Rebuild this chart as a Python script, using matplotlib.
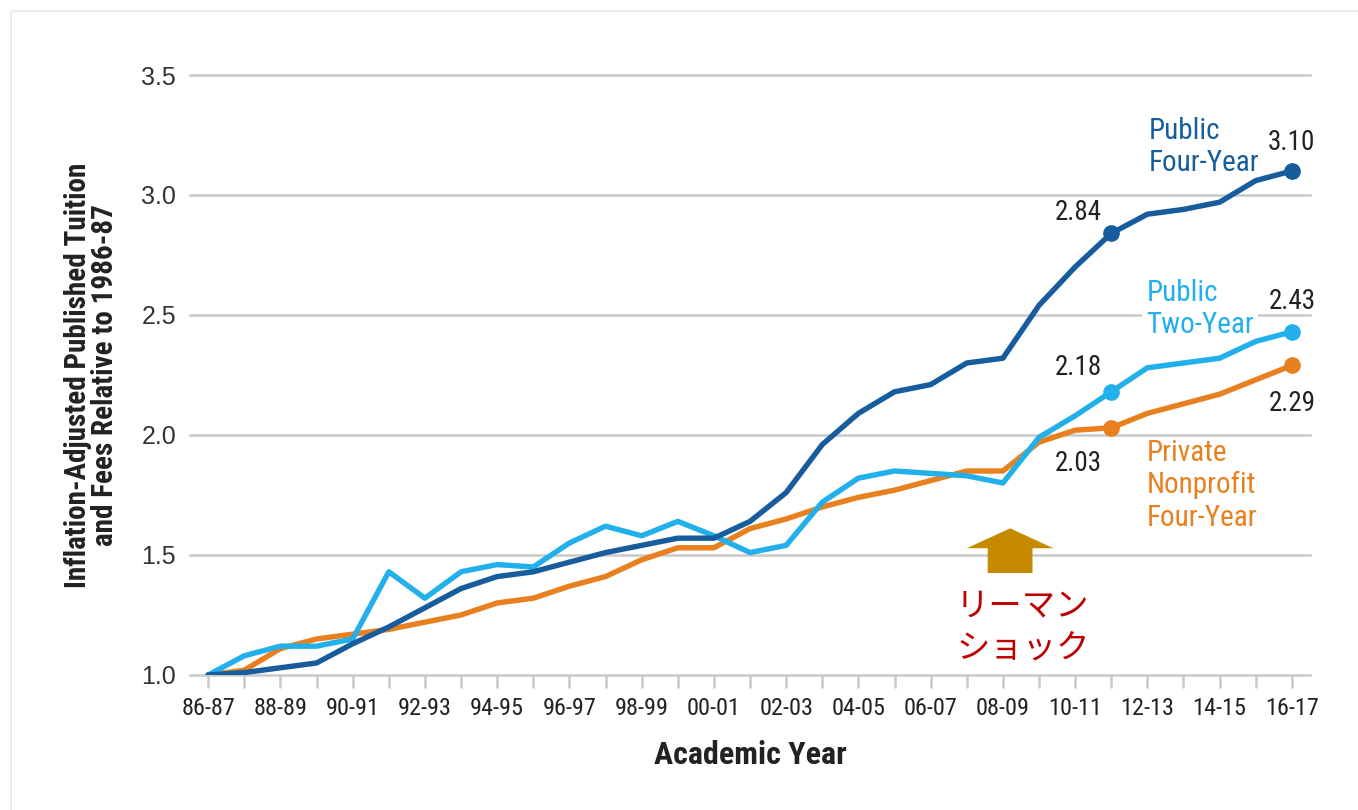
import matplotlib
matplotlib.use("Agg")
import matplotlib.pyplot as plt
from matplotlib.patches import Polygon
from matplotlib.lines import Line2D

years = [f"{y % 100:02d}-{(y + 1) % 100:02d}" for y in range(1986, 2017)]

public_four = [1.00, 1.01, 1.03, 1.05, 1.13, 1.20, 1.28, 1.36, 1.41, 1.43,
               1.47, 1.51, 1.54, 1.57, 1.57, 1.64, 1.76, 1.96, 2.09, 2.18,
               2.21, 2.30, 2.32, 2.54, 2.70, 2.84, 2.92, 2.94, 2.97, 3.06, 3.10]
public_two = [1.00, 1.08, 1.12, 1.12, 1.15, 1.43, 1.32, 1.43, 1.46, 1.45,
              1.55, 1.62, 1.58, 1.64, 1.58, 1.51, 1.54, 1.72, 1.82, 1.85,
              1.84, 1.83, 1.80, 1.99, 2.08, 2.18, 2.28, 2.30, 2.32, 2.39, 2.43]
private_np = [1.00, 1.02, 1.11, 1.15, 1.17, 1.19, 1.22, 1.25, 1.30, 1.32,
              1.37, 1.41, 1.48, 1.53, 1.53, 1.61, 1.65, 1.70, 1.74, 1.77,
              1.81, 1.85, 1.85, 1.97, 2.02, 2.03, 2.09, 2.13, 2.17, 2.23, 2.29]

DARK = "#175d9d"
LIGHT = "#22b0ea"
ORANGE = "#e8801f"
GRID = "#c9c9c9"
FONT = ["Roboto Condensed", "Liberation Sans", "DejaVu Sans"]
plt.rcParams["font.family"] = FONT

fig = plt.figure(figsize=(13.58, 8.10), dpi=100)
ax = fig.add_axes([0.14, 0.1667, 0.8246, 0.7407])

x = list(range(len(years)))
ax.set_xlim(-0.5, 30.5)
ax.set_ylim(1.0, 3.5)

for v in [1.5, 2.0, 2.5, 3.0, 3.5]:
    ax.axhline(v, color=GRID, lw=1.8, zorder=1, clip_on=False)

ax.plot(x, private_np, color=ORANGE, lw=3.9, zorder=3, solid_capstyle="round")
ax.plot(x, public_two, color=LIGHT, lw=3.9, zorder=4, solid_capstyle="round")
ax.plot(x, public_four, color=DARK, lw=3.9, zorder=5, solid_capstyle="round")

for series, col in [(public_four, DARK), (public_two, LIGHT), (private_np, ORANGE)]:
    ax.plot([25, 30], [series[25], series[30]], "o", color=col, ms=11, zorder=6,
            clip_on=False)

# value labels next to the end points
lab_kw = dict(fontsize=19.5, color="#222222", ha="center", va="center", zorder=7)
ax.text(24.1, public_four[25] + 0.085, f"{public_four[25]:.2f}", **lab_kw)
ax.text(30, public_four[30] + 0.117, f"{public_four[30]:.2f}", **lab_kw)
ax.text(24.1, public_two[25] + 0.103, f"{public_two[25]:.2f}", **lab_kw)
ax.text(30, public_two[30] + 0.128, f"{public_two[30]:.2f}", **lab_kw)
ax.text(24.1, private_np[25] - 0.147, f"{private_np[25]:.2f}", **lab_kw)
ax.text(30, private_np[30] - 0.157, f"{private_np[30]:.2f}", **lab_kw)

# series names
name_kw = dict(fontsize=21, ha="left", va="center", linespacing=1.2, zorder=2)
box = dict(boxstyle="square,pad=0.15", fc="white", ec="none")
ax.text(26.05, 3.2, "Public\nFour-Year", color=DARK, **name_kw)
ax.text(25.97, 2.525, "Public\nTwo-Year", color=LIGHT, bbox=box, **name_kw)
ax.text(25.97, 1.79, "Private\nNonprofit\nFour-Year", color=ORANGE, **name_kw)

# arrow marking the 2008 crisis
ac, half_head, half_shaft = 22.2, 1.2, 0.62
arrow = Polygon([(ac, 1.611), (ac + half_head, 1.528), (ac + half_shaft, 1.528),
                 (ac + half_shaft, 1.425), (ac - half_shaft, 1.425),
                 (ac - half_shaft, 1.528), (ac - half_head, 1.528)],
                closed=True, fc="#c68a00", ec="none", zorder=6)
ax.add_patch(arrow)
ax.text(22.55, 1.2, "リーマン\nショック", color="#c00000", fontsize=24,
        family=["Noto Sans CJK JP", "DejaVu Sans"], ha="center", va="center",
        linespacing=1.25, zorder=7)

# axes styling
for s in ["top", "right", "left"]:
    ax.spines[s].set_visible(False)
ax.spines["bottom"].set_color(GRID)
ax.spines["bottom"].set_linewidth(1.8)
ax.spines["bottom"].set_zorder(1)
ax.set_xticks(x)
ax.set_xticklabels([y if i % 2 == 0 else "" for i, y in enumerate(years)],
                   fontsize=17.5, color="#222222")
ax.tick_params(axis="x", length=9, width=1.8, color=GRID, pad=7)
ax.set_yticks([1.0, 1.5, 2.0, 2.5, 3.0, 3.5])
ax.set_yticklabels(["1.0", "1.5", "2.0", "2.5", "3.0", "3.5"], fontsize=18,
                   color="#333333", family=["Liberation Sans", "DejaVu Sans"])
ax.tick_params(axis="y", length=0, pad=10)

ax.set_xlabel("Academic Year", fontsize=23, fontweight="bold",
              color="#222222", labelpad=14)
ax.set_ylabel("Inflation-Adjusted Published Tuition\nand Fees Relative to 1986-87",
              fontsize=21, fontweight="bold", color="#222222",
              labelpad=16, linespacing=0.95)

# faint frame along the top and left edges
frame = "#ececec"
fig.add_artist(Line2D([0.0081, 1.0], [0.9864, 0.9864], transform=fig.transFigure,
                      color=frame, lw=1.5))
fig.add_artist(Line2D([0.0081, 0.0081], [0.0, 0.9864], transform=fig.transFigure,
                      color=frame, lw=1.5))

fig.savefig("out.png", dpi=100)
